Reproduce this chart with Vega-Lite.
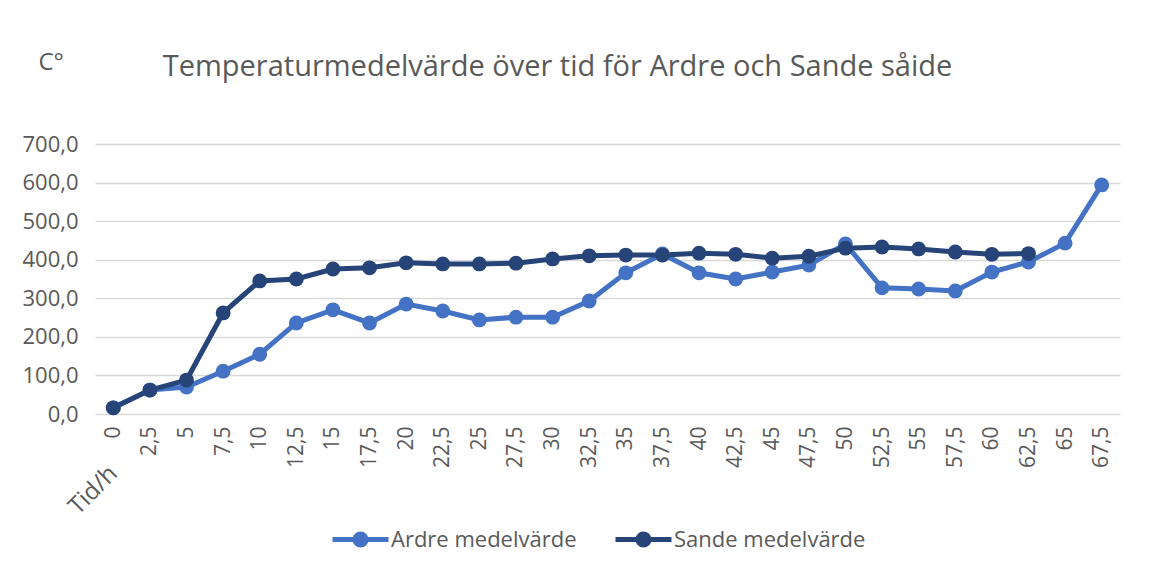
{
  "$schema": "https://vega.github.io/schema/vega-lite/v6.json",
  "width": 1025,
  "height": 270,
  "autosize": "none",
  "padding": {"left": 95, "top": 144, "right": 46, "bottom": 155},
  "background": "white",
  "config": {
    "font": "Open Sans",
    "view": {"stroke": null}
  },
  "title": {
    "text": "Temperaturmedelvärde över tid för Ardre och Sande såide",
    "fontSize": 29,
    "fontWeight": "normal",
    "color": "#595959",
    "anchor": "middle",
    "dx": -50,
    "dy": 52,
    "offset": 20
  },
  "data": {
    "values": [
      {"t": "0", "s": "Ardre medelvärde", "v": 16},
      {"t": "2,5", "s": "Ardre medelvärde", "v": 62},
      {"t": "5", "s": "Ardre medelvärde", "v": 70},
      {"t": "7,5", "s": "Ardre medelvärde", "v": 111},
      {"t": "10", "s": "Ardre medelvärde", "v": 155},
      {"t": "12,5", "s": "Ardre medelvärde", "v": 236},
      {"t": "15", "s": "Ardre medelvärde", "v": 270},
      {"t": "17,5", "s": "Ardre medelvärde", "v": 236},
      {"t": "20", "s": "Ardre medelvärde", "v": 285},
      {"t": "22,5", "s": "Ardre medelvärde", "v": 267},
      {"t": "25", "s": "Ardre medelvärde", "v": 244},
      {"t": "27,5", "s": "Ardre medelvärde", "v": 251},
      {"t": "30", "s": "Ardre medelvärde", "v": 251},
      {"t": "32,5", "s": "Ardre medelvärde", "v": 293},
      {"t": "35", "s": "Ardre medelvärde", "v": 366},
      {"t": "37,5", "s": "Ardre medelvärde", "v": 415},
      {"t": "40", "s": "Ardre medelvärde", "v": 366},
      {"t": "42,5", "s": "Ardre medelvärde", "v": 350},
      {"t": "45", "s": "Ardre medelvärde", "v": 368},
      {"t": "47,5", "s": "Ardre medelvärde", "v": 386},
      {"t": "50", "s": "Ardre medelvärde", "v": 441},
      {"t": "52,5", "s": "Ardre medelvärde", "v": 327},
      {"t": "55", "s": "Ardre medelvärde", "v": 324},
      {"t": "57,5", "s": "Ardre medelvärde", "v": 319},
      {"t": "60", "s": "Ardre medelvärde", "v": 368},
      {"t": "62,5", "s": "Ardre medelvärde", "v": 394},
      {"t": "65", "s": "Ardre medelvärde", "v": 443},
      {"t": "67,5", "s": "Ardre medelvärde", "v": 594},
      {"t": "0", "s": "Sande medelvärde", "v": 16},
      {"t": "2,5", "s": "Sande medelvärde", "v": 62},
      {"t": "5", "s": "Sande medelvärde", "v": 88},
      {"t": "7,5", "s": "Sande medelvärde", "v": 262},
      {"t": "10", "s": "Sande medelvärde", "v": 345},
      {"t": "12,5", "s": "Sande medelvärde", "v": 350},
      {"t": "15", "s": "Sande medelvärde", "v": 376},
      {"t": "17,5", "s": "Sande medelvärde", "v": 379},
      {"t": "20", "s": "Sande medelvärde", "v": 392},
      {"t": "22,5", "s": "Sande medelvärde", "v": 389},
      {"t": "25", "s": "Sande medelvärde", "v": 389},
      {"t": "27,5", "s": "Sande medelvärde", "v": 391},
      {"t": "30", "s": "Sande medelvärde", "v": 402},
      {"t": "32,5", "s": "Sande medelvärde", "v": 410},
      {"t": "35", "s": "Sande medelvärde", "v": 412},
      {"t": "37,5", "s": "Sande medelvärde", "v": 412},
      {"t": "40", "s": "Sande medelvärde", "v": 417},
      {"t": "42,5", "s": "Sande medelvärde", "v": 414},
      {"t": "45", "s": "Sande medelvärde", "v": 404},
      {"t": "47,5", "s": "Sande medelvärde", "v": 409},
      {"t": "50", "s": "Sande medelvärde", "v": 430},
      {"t": "52,5", "s": "Sande medelvärde", "v": 433},
      {"t": "55", "s": "Sande medelvärde", "v": 428},
      {"t": "57,5", "s": "Sande medelvärde", "v": 420},
      {"t": "60", "s": "Sande medelvärde", "v": 414},
      {"t": "62,5", "s": "Sande medelvärde", "v": 416}
    ]
  },
  "mark": {
    "type": "line",
    "strokeWidth": 5,
    "point": {"filled": true, "size": 220, "opacity": 1}
  },
  "encoding": {
    "x": {
      "field": "t",
      "type": "ordinal",
      "sort": null,
      "scale": {"type": "point", "padding": 0.5},
      "axis": {
        "title": "Tid/h",
        "titleAngle": -45,
        "titleX": -2,
        "titleY": 76,
        "titleAlign": "center",
        "titleBaseline": "middle",
        "titleFontSize": 24,
        "titleFontWeight": "normal",
        "titleColor": "#595959",
        "labelAngle": -90,
        "labelFontSize": 21,
        "labelColor": "#595959",
        "labelPadding": 12,
        "labelOverlap": false,
        "domain": false,
        "ticks": false,
        "grid": false
      }
    },
    "y": {
      "field": "v",
      "type": "quantitative",
      "scale": {"domain": [0, 700], "nice": false},
      "axis": {
        "title": "C°",
        "titleAngle": 0,
        "titleX": -57,
        "titleY": -82,
        "titleAlign": "left",
        "titleBaseline": "middle",
        "titleFontSize": 24,
        "titleFontWeight": "normal",
        "titleColor": "#595959",
        "values": [0, 100, 200, 300, 400, 500, 600, 700],
        "labelExpr": "replace(format(datum.value, '.1f'), '.', ',')",
        "labelFontSize": 22,
        "labelColor": "#595959",
        "labelPadding": 17,
        "domain": false,
        "ticks": false,
        "grid": true,
        "gridColor": "#d9d9d9",
        "gridWidth": 1.5
      }
    },
    "color": {
      "field": "s",
      "type": "nominal",
      "scale": {
        "domain": ["Ardre medelvärde", "Sande medelvärde"],
        "range": ["#4472C4", "#264478"]
      },
      "legend": {
        "title": null,
        "orient": "none",
        "direction": "horizontal",
        "legendX": 235,
        "legendY": 365,
        "symbolType": "M-1,0H1M-0.196,0A0.196,0.196,0,1,0,0.196,0A0.196,0.196,0,1,0,-0.196,0M-0.09,0A0.09,0.09,0,1,0,0.09,0A0.09,0.09,0,1,0,-0.09,0",
        "symbolSize": 3136,
        "symbolStrokeWidth": 5,
        "labelFontSize": 22,
        "labelLimit": 400,
        "labelColor": "#595959",
        "labelOffset": 0,
        "columnPadding": 28
      }
    }
  }
}
